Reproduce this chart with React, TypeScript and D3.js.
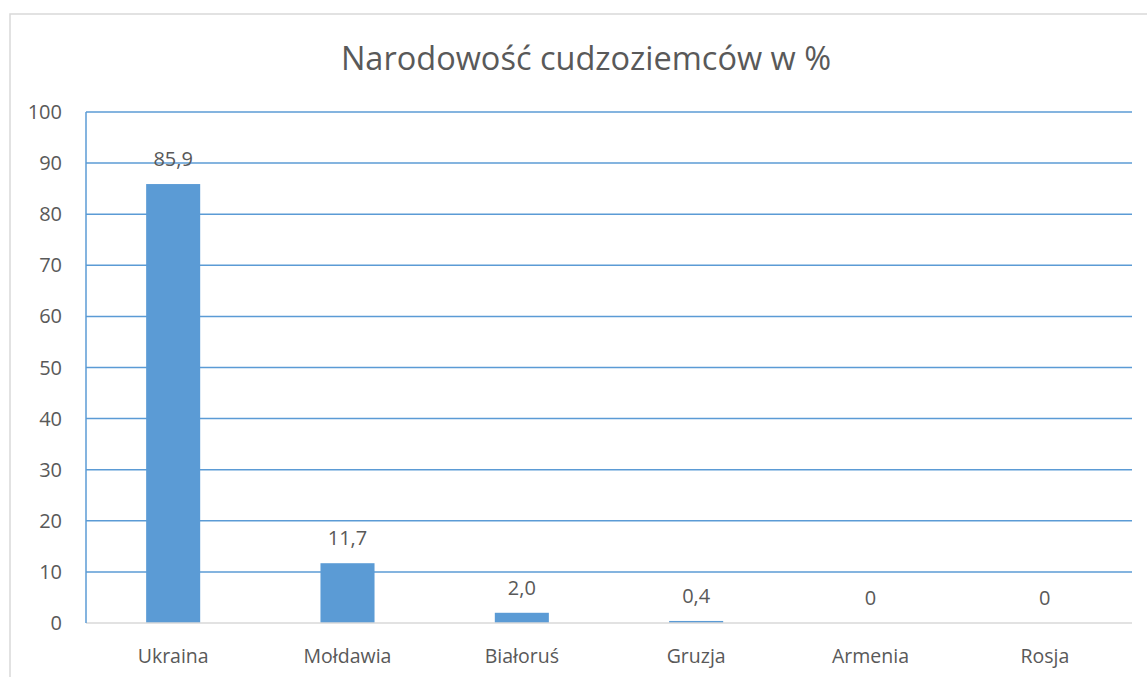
import React from "react";
import * as d3 from "d3";

const categories = ["Ukraina", "Mołdawia", "Białoruś", "Gruzja", "Armenia", "Rosja"];
const values = [85.9, 11.7, 2.0, 0.4, 0, 0];
const valueLabels = ["85,9", "11,7", "2,0", "0,4", "0", "0"];
const yTicks = [0, 10, 20, 30, 40, 50, 60, 70, 80, 90, 100];
const title = "Narodowość cudzoziemców w %";

const W = 1147;
const H = 677;
const left = 86;
const right = 1132;
const top = 112;
const bottom = 623;
const FONT = "'Open Sans', Calibri, sans-serif";
const TEXT = "#595959";
const BLUE = "#5b9bd5";

export default function App() {
  const x = d3.scaleBand<string>().domain(categories).range([left, right]).paddingInner(0.69).paddingOuter(0.345);
  const xc = d3.scaleBand<string>().domain(categories).range([left, right]);
  const y = d3.scaleLinear().domain([0, 100]).range([bottom, top]);

  return (
    <svg width={W} height={H} style={{ position: "absolute", left: 0, top: 0, background: "#fff" }}>
      <rect x={10} y={14} width={W + 20} height={H + 20} fill="#fff" stroke="#d9d9d9" strokeWidth={1.5} />
      <text x={586} y={70} textAnchor="middle" fontFamily={FONT} fontSize={32.5} fill={TEXT}>
        {title}
      </text>
      {yTicks.filter((t) => t > 0).map((t) => (
        <line key={t} x1={left} x2={right} y1={y(t)} y2={y(t)} stroke={BLUE} strokeWidth={1.5} />
      ))}
      {yTicks.map((t) => (
        <text key={t} x={62} y={y(t)} dy="0.35em" textAnchor="end" fontFamily={FONT} fontSize={20} fill={TEXT}>
          {t}
        </text>
      ))}
      {categories.map((c, i) => (
        <rect key={c} x={x(c)} width={x.bandwidth()} y={y(values[i])} height={Math.max(0, bottom - y(values[i]))} fill={BLUE} />
      ))}
      <line x1={left} x2={right} y1={bottom} y2={bottom} stroke="#d9d9d9" strokeWidth={1.5} />
      <line x1={left} x2={left} y1={top} y2={bottom} stroke={BLUE} strokeWidth={1.5} />
      {categories.map((c, i) => (
        <text key={c} x={(xc(c) as number) + xc.bandwidth() / 2} y={y(values[i]) - 25} dy="0.35em" textAnchor="middle" fontFamily={FONT} fontSize={20} fill={TEXT}>
          {valueLabels[i]}
        </text>
      ))}
      {categories.map((c) => (
        <text key={c} x={(xc(c) as number) + xc.bandwidth() / 2} y={656} dy="0.35em" textAnchor="middle" fontFamily={FONT} fontSize={19.5} fill={TEXT}>
          {c}
        </text>
      ))}
    </svg>
  );
}
